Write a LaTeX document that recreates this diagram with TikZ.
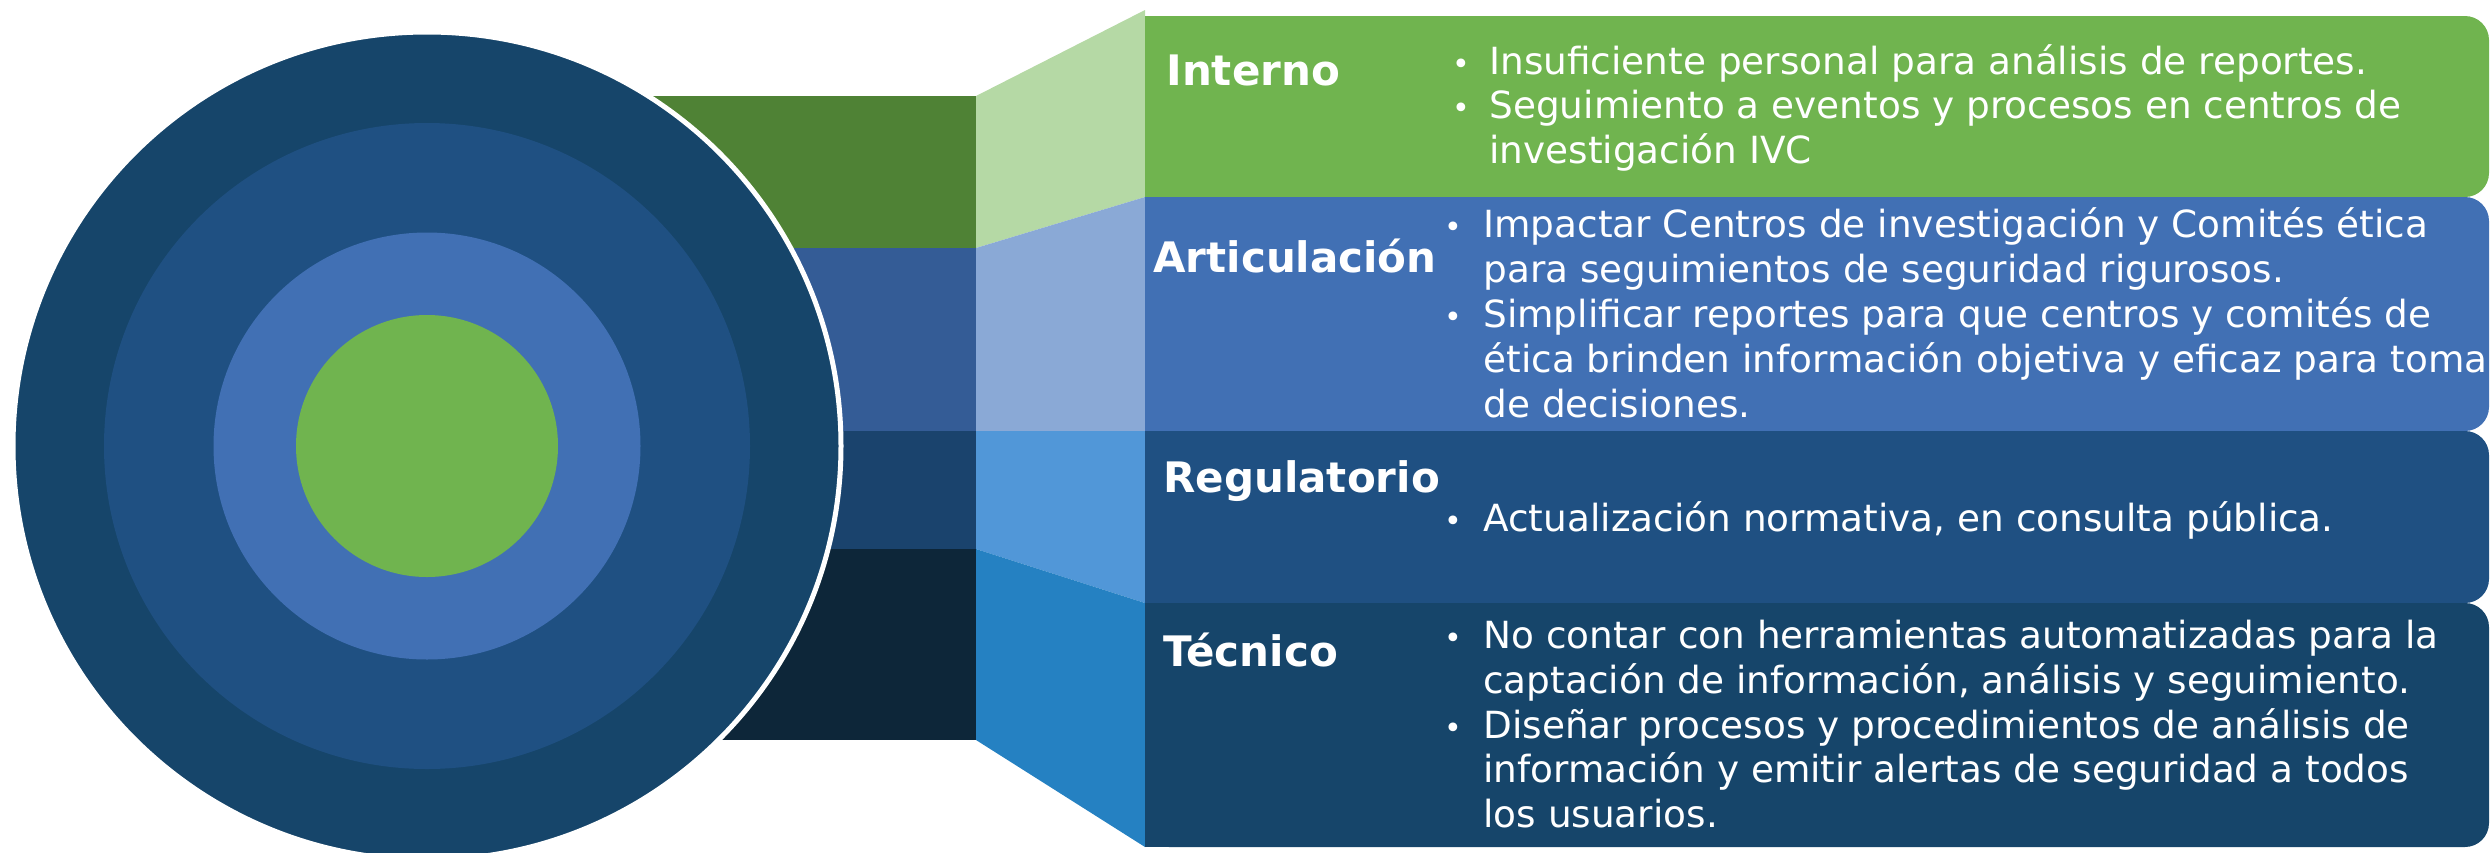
\documentclass[tikz,border=0pt]{standalone}
\usepackage{fontspec}
\setmainfont{DejaVu Sans}
\definecolor{cBarG}{HTML}{4F8235}
\definecolor{cBarB}{HTML}{345C96}
\definecolor{cBarD}{HTML}{1A436D}
\definecolor{cBarN}{HTML}{0D2639}
\definecolor{cC1}{HTML}{16456A}
\definecolor{cC2}{HTML}{1F5082}
\definecolor{cC3}{HTML}{4170B4}
\definecolor{cC4}{HTML}{70B44F}
\definecolor{cT1}{HTML}{B5D9A5}
\definecolor{cT2}{HTML}{8AA9D6}
\definecolor{cT3}{HTML}{5197D8}
\definecolor{cT4}{HTML}{2581C2}
\definecolor{cB1}{HTML}{70B44F}
\definecolor{cB2}{HTML}{4170B4}
\definecolor{cB3}{HTML}{1F5082}
\definecolor{cB4}{HTML}{16456A}
\begin{document}
\begin{tikzpicture}[x=0.5pt,y=-0.5pt,
  title/.style={anchor=base west, inner sep=0pt, text=white, font=\fontsize{21}{24}\selectfont\bfseries},
  body/.style={anchor=base west, inner sep=0pt, text=white, font=\fontsize{18.7}{22}\selectfont},
  bul/.style={anchor=base west, inner sep=0pt, text=white, font=\fontsize{15}{22}\selectfont},
  boxr/.style={rounded corners=12pt}]
\useasboundingbox (0,0) rectangle (2491,852);
% bars behind the circle
\fill[cBarG] (500,96) rectangle (976,248);
\fill[cBarB] (500,248) rectangle (976,431);
\fill[cBarD] (500,431) rectangle (976,549);
\fill[cBarN] (500,549) rectangle (976,740);
% concentric circles
\fill[cC1, draw=white, line width=2.5pt] (427,446) circle[radius=207pt];
\fill[cC2] (427,446) circle[radius=161.5pt];
\fill[cC3] (427,446) circle[radius=106.75pt];
\fill[cC4] (427,446) circle[radius=65.5pt];
% trapezoids
\fill[cT1] (976,96) -- (1145,10) -- (1145,197) -- (976,248) -- cycle;
\fill[cT2] (976,248) -- (1145,197) -- (1145,431) -- (976,431) -- cycle;
\fill[cT3] (976,431) -- (1145,431) -- (1145,603) -- (976,549) -- cycle;
\fill[cT4] (976,549) -- (1145,603) -- (1145,847) -- (976,740) -- cycle;
% boxes
\fill[cB1, boxr] (1145,16) rectangle (2489,197);
\fill[cB1] (1145,16) rectangle (1400,197);
\fill[cB2, boxr] (1145,197) rectangle (2489,431);
\fill[cB2] (1145,197) rectangle (1400,431);
\fill[cB3, boxr] (1145,431) rectangle (2489,603);
\fill[cB3] (1145,431) rectangle (1400,603);
\fill[cB4, boxr] (1145,603) rectangle (2489,847);
\fill[cB4] (1145,603) rectangle (1400,847);
% Interno
\node[title] (t1) at (1166,85) {Interno};
\node[bul] (b1a) at (1452,74) {•};
\node[body] (l1a) at (1489,74) {Insuficiente personal para análisis de reportes.};
\node[bul] (b1b) at (1452,118) {•};
\node[body] (l1b) at (1489,118) {Seguimiento a eventos y procesos en centros de};
\node[body] (l1c) at (1489,163) {investigación IVC};
% Articulacion
\node[title] (t2) at (1153,272) {Articulación};
\node[bul] (b2a) at (1444,237) {•};
\node[body] (l2a) at (1483,237) {Impactar Centros de investigación y Comités ética};
\node[body] (l2b) at (1483,282) {para seguimientos de seguridad rigurosos.};
\node[bul] (b2b) at (1444,327) {•};
\node[body] (l2c) at (1483,327) {Simplificar reportes para que centros y comités de};
\node[body] (l2d) at (1483,372) {ética brinden información objetiva y eficaz para toma};
\node[body] (l2e) at (1483,417) {de decisiones.};
% Regulatorio
\node[title] (t3) at (1163,492) {Regulatorio};
\node[bul] (b3a) at (1444,531) {•};
\node[body] (l3a) at (1483,531) {Actualización normativa, en consulta pública.};
% Tecnico
\node[title] (t4) at (1163,666) {Técnico};
\node[bul] (b4a) at (1444,648) {•};
\node[body] (l4a) at (1483,648) {No contar con herramientas automatizadas para la};
\node[body] (l4b) at (1483,693) {captación de información, análisis y seguimiento.};
\node[bul] (b4b) at (1444,738) {•};
\node[body] (l4c) at (1483,738) {Diseñar procesos y procedimientos de análisis de};
\node[body] (l4d) at (1483,782) {información y emitir alertas de seguridad a todos};
\node[body] (l4e) at (1483,827) {los usuarios.};
\end{tikzpicture}
\end{document}
